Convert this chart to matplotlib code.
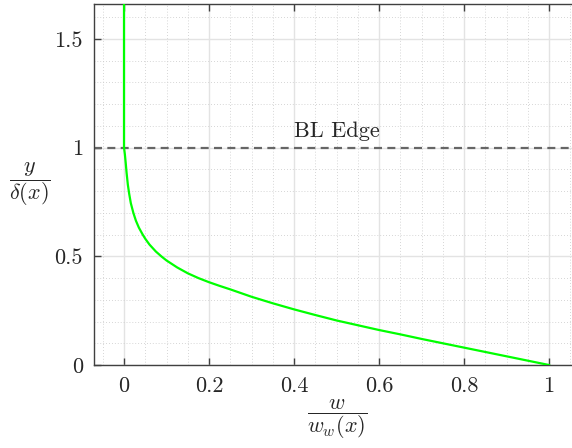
import matplotlib
matplotlib.use('Agg')
import matplotlib.pyplot as plt
from matplotlib.ticker import MultipleLocator

plt.rcParams['font.family'] = 'serif'
plt.rcParams['font.serif'] = ['cmr10']
plt.rcParams['mathtext.fontset'] = 'cm'
plt.rcParams['axes.formatter.use_mathtext'] = True

# profile: w/w_w (x) against y/delta (y)
w_ratio = [1.0, 0.95, 0.9, 0.85, 0.8, 0.75, 0.7, 0.65, 0.6, 0.55, 0.5,
           0.45, 0.4, 0.35, 0.3, 0.25, 0.225, 0.2, 0.175, 0.15, 0.125, 0.1,
           0.089, 0.075, 0.06, 0.05, 0.044, 0.035, 0.028, 0.022, 0.016,
           0.012, 0.009, 0.006, 0.004, 0.002, 0.0, 0.0]
y_ratio = [0.0, 0.02, 0.04, 0.06, 0.08, 0.1, 0.12, 0.141, 0.161, 0.183,
           0.205, 0.23, 0.256, 0.284, 0.314, 0.348, 0.364, 0.381, 0.4,
           0.422, 0.449, 0.481, 0.498, 0.522, 0.554, 0.581, 0.6, 0.632,
           0.664, 0.7, 0.745, 0.79, 0.83, 0.886, 0.93, 0.97, 1.0, 1.66]

bl_edge = 1.0
bl_label = 'BL Edge'

xticks = [0, 0.2, 0.4, 0.6, 0.8, 1]
xtick_labels = ['0', '0.2', '0.4', '0.6', '0.8', '1']
yticks = [0, 0.5, 1, 1.5]
ytick_labels = ['0', '0.5', '1', '1.5']

fig = plt.figure(figsize=(5.72, 4.48), dpi=100)
ax = fig.add_axes([94/572, 1 - 365/448, 1 - 94/572, (365 - 4)/448])

ax.plot(w_ratio, y_ratio, color='#00ff00', lw=1.6, zorder=3)
ax.axhline(bl_edge, color='#666666', lw=1.6, ls=(0, (3.6, 2.4)), zorder=2)
ax.text(0.5, bl_edge + 0.05, bl_label, ha='center', va='baseline',
        fontsize=16, color='#262626')

ax.set_xlim(-0.0706, 1.0541)
ax.set_ylim(0, 1.661)

ax.set_xticks(xticks)
ax.set_xticklabels(xtick_labels)
ax.set_yticks(yticks)
ax.set_yticklabels(ytick_labels)
ax.xaxis.set_minor_locator(MultipleLocator(0.05))
ax.yaxis.set_minor_locator(MultipleLocator(0.1))

ax.grid(which='major', color='#e3e3e3', lw=1.0, ls='-')
ax.grid(which='minor', color='#c8c8c8', lw=0.6, ls=(0, (1, 2.5)))
ax.set_axisbelow(True)

ax.tick_params(which='major', direction='in', length=5, width=1,
               color='#404040', labelsize=16, labelcolor='#262626',
               top=True, pad=8)
ax.tick_params(which='minor', length=0)

for side in ['left', 'bottom', 'top']:
    ax.spines[side].set_color('#404040')
    ax.spines[side].set_linewidth(1.0)
ax.spines['right'].set_visible(False)

ax.set_ylabel(r'$\dfrac{y}{\delta(x)}$', rotation=0, fontsize=16,
              ha='center', va='center', color='#262626')
ax.yaxis.set_label_coords(-0.134, 0.5)
ax.set_xlabel(r'$\dfrac{w}{w_w(x)}$', fontsize=16, va='center', color='#262626')
ax.xaxis.set_label_coords(0.508, -0.149)

fig.savefig('out.png', dpi=100)
